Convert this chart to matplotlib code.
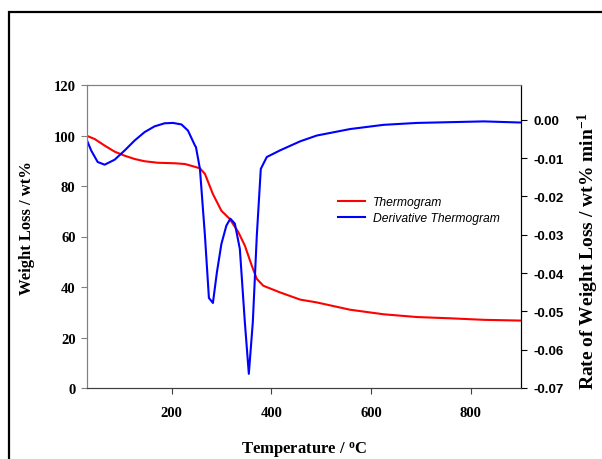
import matplotlib
matplotlib.use('Agg')
import matplotlib.pyplot as plt
from matplotlib.patches import Rectangle

# thermogram (weight %, left axis)
temp_w = [30, 46, 66, 86, 106, 126, 146, 173, 207, 227, 247, 257, 267, 283, 300, 317,
          334, 347, 361, 371, 384, 417, 458, 491, 558, 625, 692, 759, 826, 900]
weight = [99.9, 98.6, 96.0, 93.6, 92.0, 90.7, 89.8, 89.2, 89.0, 88.7, 87.6, 87.0, 84.8, 76.8, 70.2, 66.9,
          61.7, 56.4, 48.4, 43.2, 40.5, 37.9, 35.0, 33.9, 31.0, 29.2, 28.1, 27.6, 27.0, 26.7]

# derivative thermogram (wt% / min, right axis)
temp_d = [30, 39, 52, 66, 86, 106, 126, 146, 166, 186, 203, 220, 233, 247, 249, 257, 267,
          275, 283, 291, 300, 310, 318, 327, 337, 347, 355, 363, 371, 379, 391, 417,
          458, 491, 558, 625, 692, 759, 826, 900]
rate = [-0.0052, -0.0080, -0.0110, -0.0117, -0.0104, -0.0080, -0.0054, -0.0032, -0.0017, -0.0009,
        -0.0008, -0.0012, -0.0028, -0.0067, -0.0071, -0.0128, -0.0302,
        -0.0465, -0.0478, -0.0398, -0.0324, -0.0276, -0.0258, -0.0271, -0.0337, -0.0528, -0.0663,
        -0.0528, -0.0302, -0.0128, -0.0097, -0.0080,
        -0.0056, -0.0041, -0.0024, -0.0013, -0.0008, -0.0006, -0.0004, -0.0007]

x_ticks = [200, 400, 600, 800]
left_ticks = [0, 20, 40, 60, 80, 100, 120]
right_ticks = [0.00, -0.01, -0.02, -0.03, -0.04, -0.05, -0.06, -0.07]

serif = 'Liberation Serif'
sans = 'Liberation Sans'
plt.rcParams['mathtext.fontset'] = 'custom'
plt.rcParams['mathtext.rm'] = serif
plt.rcParams['mathtext.bf'] = serif + ':bold'

fig = plt.figure(figsize=(6.02, 4.6), dpi=100)
fig.patches.append(Rectangle((9 / 602, -0.1), 1.2, 1 - 13 / 460 + 0.1, transform=fig.transFigure,
                             fill=False, edgecolor='black', linewidth=1.6))

ax = fig.add_axes([86.7 / 602, 1 - 389 / 460, (520.7 - 86.7) / 602, (389 - 86) / 460])
ax2 = ax.twinx()

l1, = ax.plot(temp_w, weight, color='#ff0000', lw=1.5, label='Thermogram')
l2, = ax2.plot(temp_d, rate, color='#0000ff', lw=1.5, label='Derivative Thermogram')

ax.set_xlim(30, 900)
ax.set_ylim(0, 120)
ax2.set_ylim(-0.07, 0.0091)

ax.set_xticks(x_ticks)
ax.set_yticks(left_ticks)
ax2.set_yticks(right_ticks)
ax2.set_yticklabels(['%.2f' % v for v in right_ticks])

for lab in ax.get_xticklabels() + ax.get_yticklabels():
    lab.set_fontfamily(serif)
    lab.set_fontweight('bold')
    lab.set_fontsize(10.5)
for lab in ax2.get_yticklabels():
    lab.set_fontfamily(sans)
    lab.set_fontweight('bold')
    lab.set_fontsize(9.5)

ax.tick_params(axis='y', length=4, color='gray', pad=4)
ax.tick_params(axis='x', length=4, color='#404040', pad=9)
ax2.tick_params(axis='y', length=4, color='black', pad=5)

for a in (ax, ax2):
    a.spines['left'].set_color('gray')
    a.spines['top'].set_color('gray')
    a.spines['right'].set_color('black')
    a.spines['bottom'].set_color('#404040')

ax.set_xlabel('Temperature / $\\mathbf{^{o}}$C', fontfamily=serif, fontweight='bold', fontsize=12)
ax.xaxis.set_label_coords(0.5, -0.172)
ax.set_ylabel('Weight Loss / wt%', fontfamily=serif, fontweight='bold', fontsize=12)
ax.yaxis.set_label_coords(-0.119, 0.53)

fig.text(576 / 602, 1 - 251 / 460, 'Rate of Weight Loss / wt% min$\\mathbf{^{-1}}$', rotation=90,
         ha='left', va='center', fontfamily=serif, fontweight='bold', fontsize=14)

leg = ax.legend(handles=[l1, l2], loc='upper left', bbox_to_anchor=(0.567, 0.65), frameon=False,
                prop={'family': sans, 'style': 'italic', 'size': 8.7},
                handlelength=2.3, handletextpad=0.6, labelspacing=0.35, borderaxespad=0)

fig.savefig('out.png', dpi=100)
